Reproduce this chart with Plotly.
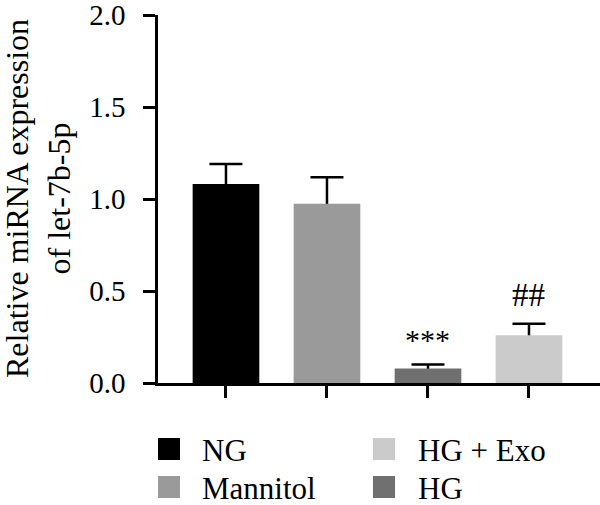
import plotly.graph_objects as go

# ---- data ----
categories = ["NG", "Mannitol", "HG", "HG + Exo"]
means = [1.082, 0.974, 0.079, 0.259]
err_upper = [0.108, 0.144, 0.022, 0.063]
sig_labels = ["", "", "***", "##"]
bar_colors = ["#000000", "#9a9a9a", "#707070", "#cbcbcb"]
legend_order = ["NG", "Mannitol", "HG + Exo", "HG"]
y_ticks = [0.0, 0.5, 1.0, 1.5, 2.0]
y_title = "Relative miRNA expression<br>of let-7b-5p"

FONT = "Liberation Serif"
W, H = 600, 505
ML, MR, MT, MB = 158, 0, 15, 122
PW, PH = W - ML - MR, H - MT - MB


def px_x(px):
    return (px - ML) / PW


def px_y(py):
    return (H - MB - py) / PH


xs = list(range(len(categories)))
fig = go.Figure()
# error bars (symmetric; lower half hidden under the bars drawn next)
fig.add_trace(go.Bar(
    x=xs, y=means, width=0.66,
    marker=dict(color="rgba(0,0,0,0)", line=dict(width=0)),
    error_y=dict(type="data", symmetric=True, array=err_upper,
                 color="#000000", thickness=2.5, width=16.5),
    showlegend=False, hoverinfo="skip",
))
# bars
fig.add_trace(go.Bar(
    x=xs, y=means, width=0.66,
    marker=dict(color=bar_colors, line=dict(width=0)),
    showlegend=False,
))

annotations = []
# significance marks
for i, (lab, m, e) in enumerate(zip(sig_labels, means, err_upper)):
    if lab:
        annotations.append(dict(
            x=i, y=m + e, xref="x", yref="y", text=lab, showarrow=False,
            xanchor="center", yanchor="bottom",
            yshift=6 if lab.startswith("*") else 9,
            font=dict(family=FONT, size=33 if lab.startswith("#") else 30, color="#000"),
        ))

# y title
annotations.append(dict(
    x=px_x(38), y=0.5, xref="paper", yref="paper", text=y_title,
    textangle=-90, showarrow=False, xanchor="center", yanchor="middle",
    font=dict(family=FONT, size=32, color="#000"),
))

# custom legend (two columns, column-major)
shapes = []
col_sq_x = [158, 373]
col_txt_x = [200, 416]
row_cy = [449, 487]
sq = 22
color_of = dict(zip(categories, bar_colors))
for k, name in enumerate(legend_order):
    c, r = divmod(k, 2)
    x0 = col_sq_x[c]
    cy = row_cy[r]
    shapes.append(dict(
        type="rect", xref="paper", yref="paper",
        x0=px_x(x0), x1=px_x(x0 + sq), y0=px_y(cy + sq / 2), y1=px_y(cy - sq / 2),
        fillcolor=color_of[name], line=dict(width=0), layer="above",
    ))
    annotations.append(dict(
        x=px_x(col_txt_x[c]), y=px_y(cy + 1), xref="paper", yref="paper",
        text=name, showarrow=False, xanchor="left", yanchor="middle",
        font=dict(family=FONT, size=31, color="#000"),
    ))

fig.update_layout(
    width=W, height=H,
    margin=dict(l=ML, r=MR, t=MT, b=MB, pad=0),
    paper_bgcolor="white", plot_bgcolor="white",
    font=dict(family=FONT, color="#000"),
    barmode="overlay",
    xaxis=dict(
        range=[-0.673, 3.703], showgrid=False, zeroline=False, automargin=False,
        showline=True, linecolor="#000", linewidth=2.5,
        tickmode="array", tickvals=xs,
        ticktext=[""] * len(categories),
        ticks="outside", ticklen=12, tickwidth=2.5, tickcolor="#000",
    ),
    yaxis=dict(
        range=[0, 2.0], showgrid=False, zeroline=False, automargin=False,
        showline=True, linecolor="#000", linewidth=2.5,
        tickmode="array", tickvals=y_ticks,
        ticktext=[f"{v:.1f}" for v in y_ticks],
        ticks="outside", ticklen=12, tickwidth=2.5, tickcolor="#000",
        tickfont=dict(family=FONT, size=29, color="#000"),
        ticklabelstandoff=12, ticklabeloverflow="allow",
    ),
    annotations=annotations,
    shapes=shapes,
)

fig.write_html("out.html")
